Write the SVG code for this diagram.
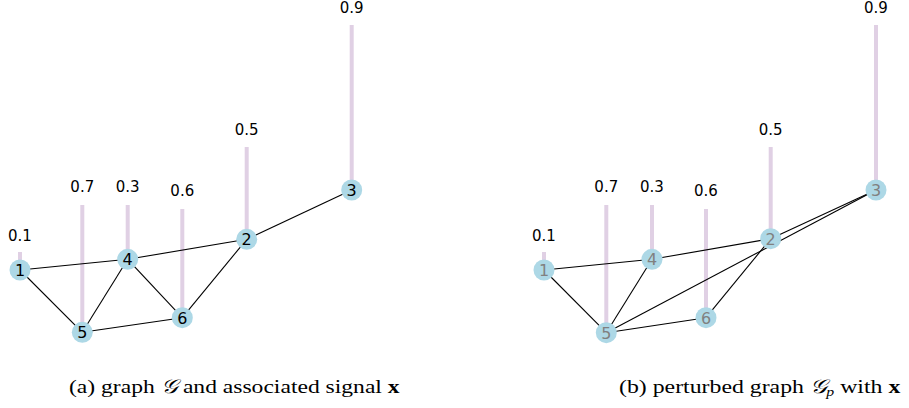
<svg xmlns="http://www.w3.org/2000/svg" width="909" height="408" viewBox="0 0 909 408">
<style>
.bar{stroke:#e0d0e4;stroke-width:4;fill:none}
.edge{stroke:#000;stroke-width:1.1;fill:none}
.node{fill:#add8e6}
.val{font-family:"DejaVu Sans",sans-serif;font-size:15px;fill:#000;text-anchor:middle}
.lab{font-family:"DejaVu Sans",sans-serif;font-size:16px;text-anchor:middle}
.la{fill:#000}
.lb{fill:#808080}
.cap{font-family:"Liberation Serif","DejaVu Serif",serif;font-size:19.5px;fill:#000}
</style>
<rect width="909" height="408" fill="#fff"/>
<g id="bars-a">
<line class="bar" x1="20" y1="252" x2="20" y2="270"/>
<line class="bar" x1="82.3" y1="205" x2="82.3" y2="332.3"/>
<line class="bar" x1="127.7" y1="205" x2="127.7" y2="259.3"/>
<line class="bar" x1="182.3" y1="209" x2="182.3" y2="317.7"/>
<line class="bar" x1="246.7" y1="147" x2="246.7" y2="239.3"/>
<line class="bar" x1="351.7" y1="25" x2="351.7" y2="190"/>
</g>
<g id="bars-b">
<line class="bar" x1="544" y1="252" x2="544" y2="270"/>
<line class="bar" x1="606.3" y1="205" x2="606.3" y2="332.7"/>
<line class="bar" x1="652" y1="205" x2="652" y2="259.3"/>
<line class="bar" x1="706" y1="209" x2="706" y2="317.7"/>
<line class="bar" x1="770.7" y1="147" x2="770.7" y2="238.7"/>
<line class="bar" x1="876" y1="25" x2="876" y2="190"/>
</g>
<g id="values">
<text class="val" x="20" y="240.5">0.1</text>
<text class="val" x="82.3" y="192">0.7</text>
<text class="val" x="127.7" y="192">0.3</text>
<text class="val" x="182.3" y="196">0.6</text>
<text class="val" x="246.7" y="134.5">0.5</text>
<text class="val" x="351.7" y="13">0.9</text>
<text class="val" x="544" y="240.5">0.1</text>
<text class="val" x="606.3" y="192">0.7</text>
<text class="val" x="652" y="192">0.3</text>
<text class="val" x="706" y="196">0.6</text>
<text class="val" x="770.7" y="134.5">0.5</text>
<text class="val" x="876" y="13">0.9</text>
</g>
<g id="connectors">
<line class="edge" x1="20" y1="270" x2="127.7" y2="259.3"/>
<line class="edge" x1="127.7" y1="259.3" x2="246.7" y2="239.3"/>
<line class="edge" x1="246.7" y1="239.3" x2="351.7" y2="190"/>
<line class="edge" x1="20" y1="270" x2="82.3" y2="332.3"/>
<line class="edge" x1="82.3" y1="332.3" x2="127.7" y2="259.3"/>
<line class="edge" x1="127.7" y1="259.3" x2="182.3" y2="317.7"/>
<line class="edge" x1="82.3" y1="332.3" x2="182.3" y2="317.7"/>
<line class="edge" x1="182.3" y1="317.7" x2="246.7" y2="239.3"/>
<line class="edge" x1="544" y1="270" x2="652" y2="259.3"/>
<line class="edge" x1="652" y1="259.3" x2="770.7" y2="238.7"/>
<line class="edge" x1="770.7" y1="238.7" x2="876" y2="190"/>
<line class="edge" x1="544" y1="270" x2="606.3" y2="332.7"/>
<line class="edge" x1="606.3" y1="332.7" x2="652" y2="259.3"/>
<line class="edge" x1="606.3" y1="332.7" x2="706" y2="317.7"/>
<line class="edge" x1="706" y1="317.7" x2="770.7" y2="238.7"/>
<line class="edge" x1="606.3" y1="332.7" x2="876" y2="190"/>
</g>
<g id="a1"><circle class="node" cx="20" cy="270" r="10.5"/><text class="lab la" x="20" y="275.8">1</text></g>
<g id="a2"><circle class="node" cx="246.7" cy="239.3" r="10.5"/><text class="lab la" x="246.7" y="245.1">2</text></g>
<g id="a3"><circle class="node" cx="351.7" cy="190" r="10.5"/><text class="lab la" x="351.7" y="195.8">3</text></g>
<g id="a4"><circle class="node" cx="127.7" cy="259.3" r="10.5"/><text class="lab la" x="127.7" y="265.1">4</text></g>
<g id="a5"><circle class="node" cx="82.3" cy="332.3" r="10.5"/><text class="lab la" x="82.3" y="338.1">5</text></g>
<g id="a6"><circle class="node" cx="182.3" cy="317.7" r="10.5"/><text class="lab la" x="182.3" y="323.5">6</text></g>
<g id="b1"><circle class="node" cx="544" cy="270" r="10.5"/><text class="lab lb" x="544" y="275.8">1</text></g>
<g id="b2"><circle class="node" cx="770.7" cy="238.7" r="10.5"/><text class="lab lb" x="770.7" y="244.5">2</text></g>
<g id="b3"><circle class="node" cx="876" cy="190" r="10.5"/><text class="lab lb" x="876" y="195.8">3</text></g>
<g id="b4"><circle class="node" cx="652" cy="259.3" r="10.5"/><text class="lab lb" x="652" y="265.1">4</text></g>
<g id="b5"><circle class="node" cx="606.3" cy="332.7" r="10.5"/><text class="lab lb" x="606.3" y="338.5">5</text></g>
<g id="b6"><circle class="node" cx="706" cy="317.7" r="10.5"/><text class="lab lb" x="706" y="323.5">6</text></g>
<g id="captions">
<text class="cap" transform="translate(69,393) scale(1.21,1)">(a) graph <tspan font-family="'DejaVu Serif','Noto Sans',serif" font-style="italic">𝒢</tspan> and associated signal <tspan font-weight="bold">x</tspan></text>
<text class="cap" transform="translate(619,393) scale(1.22,1)">(b) perturbed graph <tspan font-family="'DejaVu Serif','Noto Sans',serif" font-style="italic">𝒢</tspan><tspan font-style="italic" font-size="13" dy="3">p</tspan><tspan dy="-3"> with </tspan><tspan font-weight="bold">x</tspan></text>
</g>
</svg>
